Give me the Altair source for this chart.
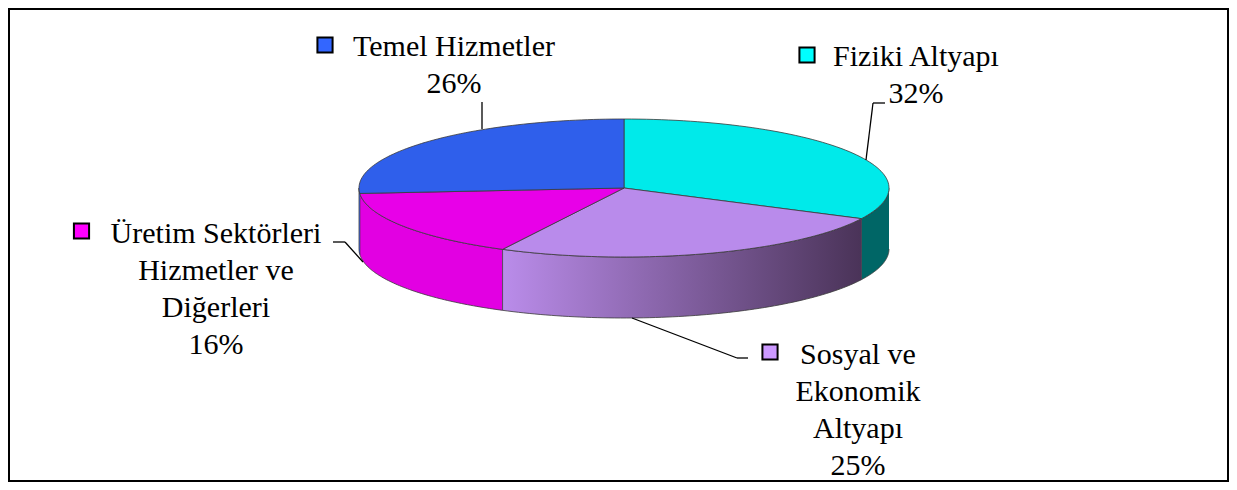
import altair as alt
import pandas as pd

# ---- data ----
kategoriler = ["Fiziki Altyapı", "Sosyal ve Ekonomik Altyapı",
               "Üretim Sektörleri Hizmetler ve Diğerleri", "Temel Hizmetler"]
yuzdeler = [32, 25, 16, 26]
etiket_satirlari = [["Fiziki Altyapı"], ["Sosyal ve", "Ekonomik", "Altyapı"],
                    ["Üretim Sektörleri", "Hizmetler ve", "Diğerleri"], ["Temel Hizmetler"]]

# ---- styles ----
ust_renkler = ["#00EAEA", "#B98BEB", "#E800E8", "#2F5FEB"]
yan_renkler = ["#006666", "#B98BEB", "#E200E2", "#2F5FEB"]
lejant_renkleri = ["#00FFFF", "#CC99FF", "#FF00FF", "#3366FF"]
FONT = "'Liberation Serif', 'Times New Roman', 'DejaVu Serif', serif"

df = pd.DataFrame({
    "kategori": kategoriler,
    "deger": yuzdeler,
    "sira": list(range(len(kategoriler))),
    "etiket": ["\n".join(l + [f"{v}%"]) for l, v in zip(etiket_satirlari, yuzdeler)],
})

W, H = 1221, 474
CX, CY, RX, RY = 616, 180, 265, 69   # pie centre / radii in pixels
D = 61 / RY                           # depth in y units
N = 72

xs = alt.Scale(domain=[-CX / RX, (W - CX) / RX], nice=False, zero=False)
ys = alt.Scale(domain=[(CY - H) / RY, CY / RY], nice=False, zero=False)
X = alt.X("px:Q", scale=xs, axis=None)
Y = alt.Y("py:Q", scale=ys, axis=None)

base = (alt.Chart(df)
        .transform_joinaggregate(toplam="sum(deger)")
        .transform_window(kum="sum(deger)", sort=[alt.SortField("sira")], frame=[None, 0])
        .transform_calculate(a0="2*PI*(datum.kum - datum.deger)/datum.toplam")
        .transform_calculate(a1="2*PI*datum.kum/datum.toplam"))

# top faces
top = (base
       .transform_calculate(idx=f"sequence(0, {N + 3})")
       .transform_flatten(["idx"])
       .transform_calculate(a=f"datum.a0 + (datum.a1 - datum.a0)*(datum.idx - 1)/{N}")
       .transform_calculate(merkez=f"datum.idx == 0 || datum.idx == {N + 2}")
       .transform_calculate(px="datum.merkez ? 0 : sin(datum.a)")
       .transform_calculate(py="datum.merkez ? 0 : cos(datum.a)")
       .mark_line(stroke="#3a3a3a", strokeWidth=0.8, strokeJoin="round")
       .encode(x=X, y=Y,
               fill=alt.Fill("kategori:N", scale=alt.Scale(domain=kategoriler, range=ust_renkler), legend=None),
               detail="kategori:N", order="idx:Q"))

# side walls (front half only)
side_base = (base
             .transform_calculate(s="max(datum.a0, PI/2)")
             .transform_calculate(e="min(datum.a1, 3*PI/2)")
             .transform_filter("datum.s < datum.e")
             .transform_calculate(idx=f"sequence(0, {2 * N + 2})")
             .transform_flatten(["idx"])
             .transform_calculate(alty=f"datum.idx > {N}")
             .transform_calculate(a=f"datum.alty ? datum.e - (datum.e - datum.s)*(datum.idx - {N + 1})/{N} : datum.s + (datum.e - datum.s)*datum.idx/{N}")
             .transform_calculate(px="sin(datum.a)")
             .transform_calculate(py=f"cos(datum.a) - (datum.alty ? {D} : 0)"))

side = (side_base
        .transform_filter(alt.datum.kategori != kategoriler[1])
        .mark_line(stroke="#3a3a3a", strokeWidth=0.8, strokeJoin="round")
        .encode(x=X, y=Y,
                fill=alt.Fill("kategori:N", scale=alt.Scale(domain=kategoriler, range=yan_renkler), legend=None),
                detail="kategori:N", order="idx:Q"))

side_grad = (side_base
             .transform_filter(alt.datum.kategori == kategoriler[1])
             .mark_line(stroke="#3a3a3a", strokeWidth=0.8, strokeJoin="round",
                        fill={"gradient": "linear", "x1": 0, "y1": 0, "x2": 1, "y2": 0,
                              "stops": [{"offset": 0, "color": "#BA8CEA"},
                                        {"offset": 1, "color": "#4A3358"}]})
             .encode(x=X, y=Y, detail="kategori:N", order="idx:Q"))

layers = [side, side_grad, top]

# labels: (text x, first baseline y, square x, square y)
etiket_yer = [(908, 58, 799, 47), (850, 356, 762, 344), (208, 235, 73.5, 223), (446, 48, 317, 37)]
for i, c in enumerate(kategoriler):
    lx, ly, sx, sy = etiket_yer[i]
    layers.append(
        alt.Chart(df).transform_filter(alt.datum.kategori == c)
        .mark_text(font=FONT, fontSize=30, lineHeight=37, lineBreak="\n", align="center",
                   baseline="alphabetic", color="black")
        .encode(x=alt.value(lx), y=alt.value(ly), text="etiket:N"))
    layers.append(
        alt.Chart(df).transform_filter(alt.datum.kategori == c)
        .mark_square(size=230, stroke="black", strokeWidth=2, opacity=1)
        .encode(x=alt.value(sx), y=alt.value(sy), fill=alt.value(lejant_renkleri[i])))

# leader lines
tek = pd.DataFrame({"k": [0]})
cizgiler = [(474, 94, 474, 121),
            (877, 95, 865, 95), (865, 95, 858, 152),
            (325, 234, 337, 234), (337, 234, 355, 254),
            (624, 310, 729, 350), (729, 350, 740, 350)]
for x1, y1, x2, y2 in cizgiler:
    layers.append(alt.Chart(tek).mark_rule(color="black", strokeWidth=1.3)
                  .encode(x=alt.value(x1), y=alt.value(y1), x2=alt.value(x2), y2=alt.value(y2)))

chart = (alt.layer(*layers)
         .resolve_scale(fill="independent")
         .properties(width=W, height=H, padding=0, background="white")
         .configure_view(stroke="black", strokeWidth=4))

chart.save("out.html", embed_options={"renderer": "svg", "actions": False})
